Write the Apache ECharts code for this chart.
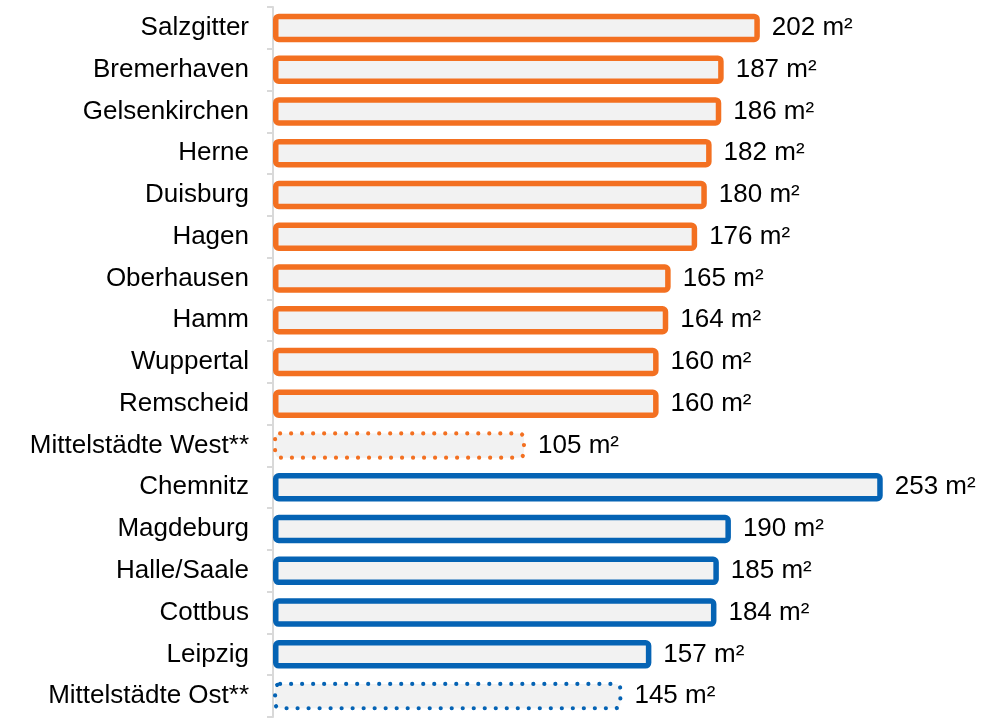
<!DOCTYPE html>
<html>
<head>
<meta charset="utf-8">
<script src="https://cdn.jsdelivr.net/npm/echarts@6/dist/echarts.min.js"></script>
<style>html,body{margin:0;padding:0;background:#fff}#c{width:1007px;height:720px}</style>
</head>
<body>
<div id="c"></div>
<script>
const categories = ['Salzgitter','Bremerhaven','Gelsenkirchen','Herne','Duisburg','Hagen','Oberhausen','Hamm','Wuppertal','Remscheid','Mittelstädte West**','Chemnitz','Magdeburg','Halle/Saale','Cottbus','Leipzig','Mittelstädte Ost**'];
const values = [202,187,186,182,180,176,165,164,160,160,105,253,190,185,184,157,145];
const regions = ['West','West','West','West','West','West','West','West','West','West','West','Ost','Ost','Ost','Ost','Ost','Ost'];
const unit = ' m²';

const COLORS = { West: '#F37021', Ost: '#0563B4' };
const FONT = 'Liberation Sans, Arial, sans-serif';

const seriesData = values.map((v, i) => {
  const dotted = categories[i].endsWith('**');
  const color = COLORS[regions[i]];
  return {
    value: v,
    itemStyle: dotted ? {
      color: '#F2F2F2', borderColor: color, borderWidth: 4.2,
      borderType: [0.01, 11], borderCap: 'round', borderRadius: 5
    } : {
      color: '#F2F2F2', borderColor: color, borderWidth: 5.5,
      borderRadius: 3
    }
  };
});

const chart = echarts.init(document.getElementById('c'), null, { renderer: 'canvas' });
chart.setOption({
  animation: false,
  backgroundColor: '#fff',
  grid: { left: 273, right: 11, top: 7, height: 710, containLabel: false },
  xAxis: {
    type: 'value', min: 0, max: 300, show: false
  },
  yAxis: {
    type: 'category', data: categories, inverse: true,
    axisLine: { show: true, lineStyle: { color: '#D9D9D9', width: 2 } },
    axisTick: { show: true, length: 6, lineStyle: { color: '#D9D9D9', width: 2 } },
    axisLabel: { margin: 24, fontSize: 26, color: '#000', fontFamily: FONT },
    splitLine: { show: false }
  },
  series: [{
    type: 'bar', data: seriesData, barWidth: 28.5,
    label: {
      show: true, position: 'right', distance: 12,
      fontSize: 26, color: '#000', fontFamily: FONT,
      formatter: p => p.value + unit
    }
  }]
});
</script>
</body>
</html>
